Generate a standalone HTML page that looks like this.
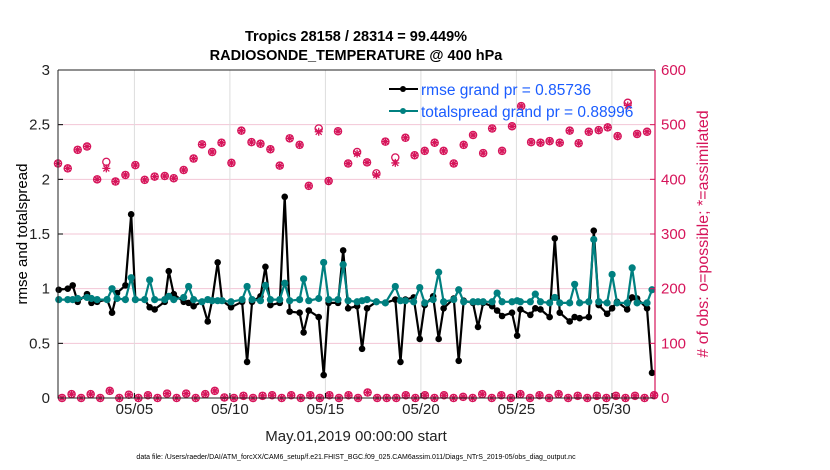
<!DOCTYPE html>
<html><head><meta charset="utf-8"><style>
html,body{margin:0;padding:0;background:#fff;}
svg{display:block;font-family:"Liberation Sans",sans-serif;}
</style></head><body>
<svg id="chart" width="830" height="470" viewBox="0 0 830 470" xmlns="http://www.w3.org/2000/svg">
<rect x="0" y="0" width="830" height="470" fill="#fff"/>
<text x="356" y="41" text-anchor="middle" font-size="14.5" font-weight="bold" fill="#000">Tropics 28158 / 28314 = 99.449%</text>
<text x="356" y="60" text-anchor="middle" font-size="14.5" font-weight="bold" fill="#000">RADIOSONDE_TEMPERATURE @ 400 hPa</text>
<g id="grid"></g>
<g id="marks"></g>
<g id="axes"></g>
<text transform="translate(27,234) rotate(-90)" text-anchor="middle" font-size="15" fill="#000">rmse and totalspread</text>
<text transform="translate(708,234) rotate(-90)" text-anchor="middle" font-size="16" fill="#d6145a"># of obs: o=possible; *=assimilated</text>
<text x="356" y="441" text-anchor="middle" font-size="15" fill="#222">May.01,2019 00:00:00 start</text>
<text x="356" y="459" text-anchor="middle" font-size="7" fill="#000">data file: /Users/raeder/DAI/ATM_forcXX/CAM6_setup/f.e21.FHIST_BGC.f09_025.CAM6assim.011/Diags_NTrS_2019-05/obs_diag_output.nc</text>
<g id="legend">
<line x1="389" y1="89" x2="418" y2="89" stroke="#000" stroke-width="2"/>
<circle cx="403" cy="89" r="3" fill="#000"/>
<text x="421" y="95" font-size="15.5" fill="#1a5cff">rmse grand pr = 0.85736</text>
<line x1="389" y1="111" x2="418" y2="111" stroke="#008080" stroke-width="2"/>
<circle cx="403" cy="111" r="3" fill="#008080"/>
<text x="421" y="117" font-size="15.5" fill="#1a5cff">totalspread grand pr = 0.88996</text>
</g>
</svg>
<script>
const days = [0.04,0.51,0.77,1.03,1.52,1.75,2.05,2.57,2.83,3.09,3.53,3.83,4.05,4.54,4.80,5.06,5.59,5.80,6.06,6.58,6.84,7.10,7.54,7.84,8.07,8.36,8.59,9.06,9.64,9.90,10.16,
10.60,10.86,11.12,11.61,11.87,12.13,12.65,12.86,13.13,13.65,13.91,14.17,14.66,14.93,15.19,15.66,15.92,16.18,16.67,17.14,17.66,17.93,18.19,18.62,18.94,19.20,19.64,19.93,20.19,
20.72,20.98,21.24,21.73,21.99,22.26,22.73,22.99,23.25,23.77,24.04,24.21,24.73,24.99,25.26,25.74,26.01,26.27,26.79,27.05,27.31,27.79,28.05,28.31,28.75,29.01,29.27,29.80,30.06,30.32,30.84,31.10];
const rmse = [0.99,1.00,1.03,0.88,0.95,0.87,0.88,0.90,0.78,0.96,1.03,1.68,0.90,0.90,0.83,0.81,0.88,1.16,0.95,0.88,0.87,0.84,0.88,0.70,0.89,1.24,0.89,0.83,0.88,0.33,0.88,
0.93,1.20,0.85,0.87,1.84,0.79,0.78,0.60,0.80,0.74,0.21,0.87,0.87,1.35,0.82,0.84,0.45,0.82,0.88,0.87,0.90,0.33,0.90,0.92,0.54,0.85,0.93,0.54,0.82,
0.91,0.34,0.89,0.87,0.65,0.87,0.84,0.80,0.75,0.78,0.57,0.81,0.76,0.82,0.81,0.74,1.46,0.78,0.70,0.74,0.73,0.74,1.53,0.85,0.77,0.82,0.88,0.81,0.92,0.91,0.82,0.23];
const spread = [0.90,0.90,0.90,0.91,0.92,0.91,0.90,0.90,1.00,0.91,0.90,1.10,0.90,0.90,1.08,0.90,0.90,0.93,0.90,0.92,1.02,0.90,0.88,0.90,0.89,0.89,0.89,0.88,0.90,1.02,0.90,
0.89,1.03,0.90,0.90,1.05,0.89,0.90,1.09,0.89,0.91,1.24,0.90,0.90,1.22,0.89,0.88,0.89,0.90,0.88,0.87,1.02,0.89,0.89,0.88,1.01,0.87,0.90,1.15,0.88,
0.90,0.99,0.88,0.88,0.88,0.88,0.88,0.96,0.88,0.88,0.89,0.88,0.88,0.95,0.88,0.87,0.92,0.87,0.87,1.04,0.87,0.88,1.45,0.88,0.87,1.13,0.87,0.87,1.19,0.87,0.87,0.99];
const obsDays = [0.00,0.51,1.03,1.52,2.05,2.53,3.01,3.53,4.05,4.54,5.06,5.59,6.06,6.58,7.10,7.54,8.07,8.56,9.08,9.60,10.13,
10.60,11.12,11.61,12.13,12.65,13.13,13.65,14.17,14.66,15.19,15.66,16.18,16.67,17.14,17.66,18.19,18.67,19.20,19.72,20.19,
20.72,21.24,21.73,22.26,22.73,23.25,23.77,24.25,24.77,25.26,25.74,26.27,26.79,27.26,27.79,28.31,28.78,29.30,29.83,30.32,30.84];
const obsPossible = [429,420,454,460,400,432,396,408,426,399,405,406,402,417,438,464,450,467,430,489,468,
465,455,425,475,463,388,493,397,488,429,450,431,411,469,440,476,444,452,467,452,
429,463,481,448,493,452,497,534,468,467,470,467,489,466,487,490,495,479,540,483,487];
const obsAssim = [429,420,454,460,400,420,396,408,426,399,405,406,402,417,438,464,450,467,430,489,468,
465,455,425,475,463,388,487,397,488,429,447,431,408,469,430,476,444,452,467,452,
429,463,481,448,493,452,497,534,468,467,470,467,489,466,487,490,495,479,535,483,487];
const lowDays0 = 0.21, lowStep = 0.5;
const lowObs = [0,7,0,7,0,13,0,6,0,5,0,8,0,8,0,7,13,1,0,4,0,
4,5,0,5,0,5,0,5,0,5,0,10,0,0,0,5,0,5,0,5,0,
2,0,7,0,5,0,7,0,5,0,7,0,4,0,4,0,4,0,4,0,5];
const leftTicks = [0,0.5,1,1.5,2,2.5,3];
const leftTickLabels = ["0","0.5","1","1.5","2","2.5","3"];
const rightTicks = [0,100,200,300,400,500,600];
const dateTicks = [4,9,14,19,24,29];
const dateLabels = ["05/05","05/10","05/15","05/20","05/25","05/30"];

const NS="http://www.w3.org/2000/svg";
const L=58,R=655,T=70,B=398,D0=0,DPX=19.1;
const xs = d => L + (d-D0)*DPX;
const yl = v => B - v/3*(B-T);
const yr = n => B - n/600*(B-T);
const MAG="#d6145a", TEAL="#008080";
function mk(tag,attrs,parent){const e=document.createElementNS(NS,tag);for(const k in attrs)e.setAttribute(k,attrs[k]);parent.appendChild(e);return e;}
const grid=document.getElementById('grid'),marks=document.getElementById('marks'),axes=document.getElementById('axes');

leftTicks.forEach((v,i)=>{
  if(v>0&&v<3){const g=mk('line',{x1:L,x2:R,y1:yl(v),y2:yl(v),stroke:'#f3c6d6','stroke-width':1},grid);
  
  }
  const t=mk('text',{x:L-8,y:yl(v)+5,'text-anchor':'end','font-size':15,fill:'#222'},axes);t.textContent=leftTickLabels[i];
  
  
  const tk=mk('line',{x1:L,x2:L+5,y1:yl(v),y2:yl(v),stroke:'#000'},axes);
  
  
});
rightTicks.forEach(n=>{
  const t=mk('text',{x:R+6,y:yr(n)+5,'font-size':15,fill:MAG},axes);t.textContent=String(n);
  
  
  const tk=mk('line',{x1:R-5,x2:R,y1:yr(n),y2:yr(n),stroke:MAG},axes);
  
  
});
dateTicks.forEach((d,i)=>{
  const g=mk('line',{x1:xs(d),x2:xs(d),y1:T,y2:B,stroke:'#dcdcdc','stroke-width':1},grid);
  
  
  const t=mk('text',{x:xs(d),y:B+16,'text-anchor':'middle','font-size':15,fill:'#222'},axes);t.textContent=dateLabels[i];
  
  
  const tk=mk('line',{x1:xs(d),x2:xs(d),y1:B,y2:B-5,stroke:'#000'},axes);
  
  
});
const fr=mk('path',{d:`M${L},${T}H${R}M${L},${T}V${B}H${R}`,stroke:'#222','stroke-width':1,fill:'none'},axes);


const ra=mk('line',{x1:R,x2:R,y1:T,y2:B,stroke:MAG,'stroke-width':1.2},axes);



function star(x,y,parent){
  const d=`M${x-4},${y}H${x+4}M${x},${y-4}V${y+4}M${x-3},${y-3}L${x+3},${y+3}M${x-3},${y+3}L${x+3},${y-3}`;
  return mk('path',{d:d,stroke:MAG,'stroke-width':1.3,fill:'none'},parent);
}
obsDays.forEach((d,i)=>{
  const c=mk('circle',{cx:xs(d),cy:yr(obsPossible[i]),r:3.6,fill:'none',stroke:MAG,'stroke-width':1.3},marks);
  
  
  const s=star(xs(d),yr(obsAssim[i]),marks);
  
  
});
lowObs.forEach((n,i)=>{
  const d=lowDays0+i*lowStep;
  const c=mk('circle',{cx:xs(d),cy:yr(n),r:3.6,fill:'none',stroke:MAG,'stroke-width':1.3},marks);
  
  
  const s=star(xs(d),yr(n),marks);
  
  
});
function series(vals,color,name,r){
  const pts=days.map((d,i)=>xs(d).toFixed(1)+','+yl(vals[i]).toFixed(1)).join(' ');
  const pl=mk('polyline',{points:pts,fill:'none',stroke:color,'stroke-width':2.2,'stroke-linejoin':'round'},marks);
  
  
  days.forEach((d,i)=>{
    const c=mk('circle',{cx:xs(d),cy:yl(vals[i]),r:r,fill:color},marks);
    
    
  });
}
series(rmse,'#000','rmse',3.3);
series(spread,TEAL,'totalspread',3.6);
</script>
</body></html>
